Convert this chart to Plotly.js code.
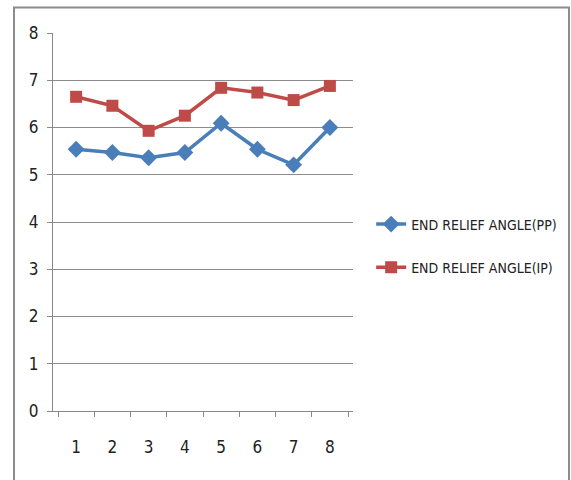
<!DOCTYPE html>
<html>
<head>
<meta charset="utf-8">
<script src="https://cdn.plot.ly/plotly-3.0.1.min.js"></script>
<style>
  html, body { margin: 0; padding: 0; background: #fff; }
  #chart { width: 571px; height: 480px; }
</style>
</head>
<body>
<div id="chart"></div>
<script>
// Trial numbers along the x axis
const categories = ['1', '2', '3', '4', '5', '6', '7', '8'];

// End relief angle readings for the two processes
const reliefPP = [5.54, 5.47, 5.36, 5.47, 6.09, 5.54, 5.21, 6.00];
const reliefIP = [6.65, 6.46, 5.93, 6.25, 6.84, 6.74, 6.58, 6.88];

const seriesNames = ['END RELIEF ANGLE(PP)', 'END RELIEF ANGLE(IP)'];
const yTicks = [0, 1, 2, 3, 4, 5, 6, 7, 8];

const narrow = '"Liberation Sans Narrow", "DejaVu Sans Condensed", "Liberation Sans", sans-serif';

const traces = [
  {
    x: categories, y: reliefPP, name: seriesNames[0], type: 'scatter', mode: 'lines+markers',
    legendgroup: 'pp',
    line: { color: '#4a7ebb', width: 3.5 },
    marker: { symbol: 'diamond', size: 13, color: '#4a7ebb' }
  },
  {
    x: categories, y: reliefIP, name: seriesNames[1], type: 'scatter', mode: 'lines+markers',
    legendgroup: 'ip',
    line: { color: '#be4b48', width: 3.5 },
    marker: { symbol: 'square', size: 12, color: '#be4b48' }
  }
];

const layout = {
  width: 571, height: 480,
  margin: { l: 53, r: 218, t: 33, b: 69 },
  paper_bgcolor: '#ffffff', plot_bgcolor: '#ffffff',
  showlegend: true,
  font: { family: narrow, color: '#222' },
  xaxis: {
    type: 'category',
    automargin: false,
    showgrid: false,
    showline: true, linecolor: '#888', linewidth: 1,
    ticks: 'outside', tickson: 'boundaries', ticklen: 5, tickcolor: '#888',
    ticklabelstandoff: 21,
    tickfont: { family: narrow, size: 17, color: '#222' },
    zeroline: false, fixedrange: true
  },
  yaxis: {
    range: [0, 8],
    automargin: false,
    tickvals: yTicks,
    showgrid: true, gridcolor: '#8c8c8c', gridwidth: 1,
    showline: true, linecolor: '#888', linewidth: 1,
    ticks: 'outside', ticklen: 5, tickcolor: '#888',
    ticklabelstandoff: 5,
    tickfont: { family: narrow, size: 17, color: '#222' },
    zeroline: false, fixedrange: true
  },
  legend: {
    xref: 'container', yref: 'container',
    x: 0.65, xanchor: 'left',
    y: 0.4875, yanchor: 'middle',
    bgcolor: 'rgba(0,0,0,0)',
    font: { family: narrow, size: 14, color: '#222' },
    tracegroupgap: 22,
    itemwidth: 30
  },
  shapes: [
    {
      type: 'rect', xref: 'paper', yref: 'paper',
      x0: -0.13, x1: 1.72, y0: -0.4, y1: 1.0675,
      line: { color: '#8c8c8c', width: 2 },
      fillcolor: 'rgba(0,0,0,0)'
    }
  ]
};

Plotly.newPlot('chart', traces, layout, { displayModeBar: false, staticPlot: true });
</script>
</body>
</html>
